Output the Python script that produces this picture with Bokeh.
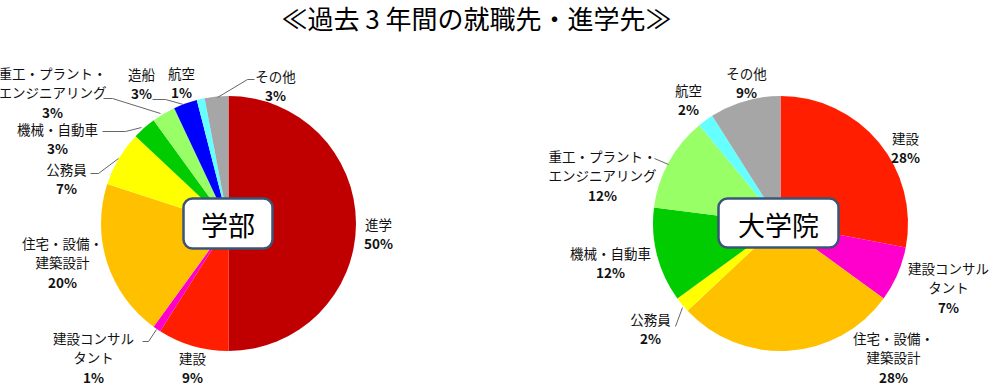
import math
from bokeh.plotting import figure
from bokeh.models import Range1d, ColumnDataSource
from bokeh.core.properties import value
from bokeh.embed import file_html
from bokeh.resources import INLINE

# ---------------- data ----------------
title_text = "≪過去 3 年間の就職先・進学先≫"

left_name = "学部"
left_categories = ["進学", "建設", "建設コンサル\nタント", "住宅・設備・\n建築設計", "公務員",
                   "機械・自動車", "重工・プラント・\nエンジニアリング", "造船", "航空", "その他"]
left_values = [50, 9, 1, 20, 7, 3, 3, 3, 1, 3]

right_name = "大学院"
right_categories = ["建設", "建設コンサル\nタント", "住宅・設備・\n建築設計", "公務員",
                    "機械・自動車", "重工・プラント・\nエンジニアリング", "航空", "その他"]
right_values = [28, 7, 28, 2, 12, 12, 2, 9]

# ---------------- styles / layout ----------------
colors = {
    "進学": "#C00000",
    "建設": "#FF1F00",
    "建設コンサル\nタント": "#FF00CC",
    "住宅・設備・\n建築設計": "#FFC000",
    "公務員": "#FFFF00",
    "機械・自動車": "#00CC00",
    "重工・プラント・\nエンジニアリング": "#99FF66",
    "造船": "#0000FF",
    "航空": "#66FFFF",
    "その他": "#A6A6A6",
}

W, H = 1000, 388
PAGE_H = 388


def Y(py):
    return PAGE_H - py


FONT = value("Noto Sans CJK JP")
R = 127.5

left_center = (228, 223)
right_center = (780, 223)

left_label_pos = {
    "進学": (378, 223),
    "建設": (192, 357),
    "建設コンサル\nタント": (93, 337),
    "住宅・設備・\n建築設計": (62, 242),
    "公務員": (66, 168),
    "機械・自動車": (57, 128),
    "重工・プラント・\nエンジニアリング": (52, 72),
    "造船": (141, 73),
    "航空": (181, 72),
    "その他": (275, 75),
}
right_label_pos = {
    "建設": (905, 137),
    "建設コンサル\nタント": (948, 267),
    "住宅・設備・\n建築設計": (893, 337),
    "公務員": (650, 318),
    "機械・自動車": (610, 252),
    "重工・プラント・\nエンジニアリング": (602, 155),
    "航空": (688, 89),
    "その他": (746, 72),
}

leaders = [
    [(142, 341), (148, 341), (156, 329)],
    [(90, 173), (98, 173), (118, 158)],
    [(102, 131), (125, 131), (141, 127)],
    [(103, 98), (112, 98), (160, 113)],
    [(152, 99), (165, 99), (183, 104)],
    [(254, 79), (247, 79), (217, 97)],
    [(654, 158), (668, 164)],
    [(675, 326), (682, 307)],
]

p = figure(width=W, height=H, output_backend="svg", toolbar_location=None,
           x_range=Range1d(0, W), y_range=Range1d(PAGE_H - H, PAGE_H),
           x_axis_type=None, y_axis_type=None, min_border=0,
           min_border_left=0, min_border_right=0, min_border_top=0, min_border_bottom=0)
p.outline_line_color = None
p.grid.visible = False
p.background_fill_color = "white"
p.border_fill_color = "white"


def draw_pie(cats, vals, center, label_pos, box_w, box_h, box_center, box_text):
    total = float(sum(vals))
    starts, ends, cum = [], [], 0.0
    for v in vals:
        starts.append(math.pi / 2 - 2 * math.pi * cum / total)
        cum += v
        ends.append(math.pi / 2 - 2 * math.pi * cum / total)
    src = ColumnDataSource(dict(
        x=[center[0]] * len(vals), y=[Y(center[1])] * len(vals),
        start=starts, end=ends, color=[colors[c] for c in cats]))
    p.wedge(x="x", y="y", radius=R, start_angle="start", end_angle="end",
            direction="clock", fill_color="color", line_color=None, source=src)

    nx, ny, nt = [], [], []
    px, py, pt = [], [], []
    for c, v in zip(cats, vals):
        lx, ly = label_pos[c]
        lines = c.split("\n")
        for i, ln in enumerate(lines):
            nx.append(lx)
            ny.append(Y(ly + i * 19.5))
            nt.append(ln)
        px.append(lx)
        py.append(Y(ly + len(lines) * 19.5))
        pt.append(f"{v}%")
    p.text(x=nx, y=ny, text=nt, text_font=FONT, text_font_size="13.5px",
           text_align="center", text_baseline="middle", text_color="#111111")
    p.text(x=px, y=py, text=pt, text_font=FONT, text_font_size="13.5px",
           text_font_style="bold", text_align="center", text_baseline="middle",
           text_color="#111111")

    p.rect(x=[box_center[0]], y=[Y(box_center[1])], width=box_w, height=box_h,
           fill_color="white", line_color="#3B5577", line_width=2.5,
           border_radius=9)
    p.text(x=[box_center[0]], y=[Y(box_center[1]) - 1], text=[box_text],
           text_font=FONT, text_font_size="27px", text_align="center",
           text_baseline="middle", text_color="#000000")


draw_pie(left_categories, left_values, left_center, left_label_pos,
         89, 50, (227.5, 223), left_name)
draw_pie(right_categories, right_values, right_center, right_label_pos,
         120, 49, (778, 222.5), right_name)

p.multi_line(xs=[[pt[0] for pt in l] for l in leaders],
             ys=[[Y(pt[1]) for pt in l] for l in leaders],
             line_color="#666666", line_width=1)

p.text(x=[476], y=[Y(17)], text=[title_text], text_font=FONT,
       text_font_size="26px", text_align="center", text_baseline="middle",
       text_color="#000000")

open("out.html", "w").write(file_html(p, INLINE))
